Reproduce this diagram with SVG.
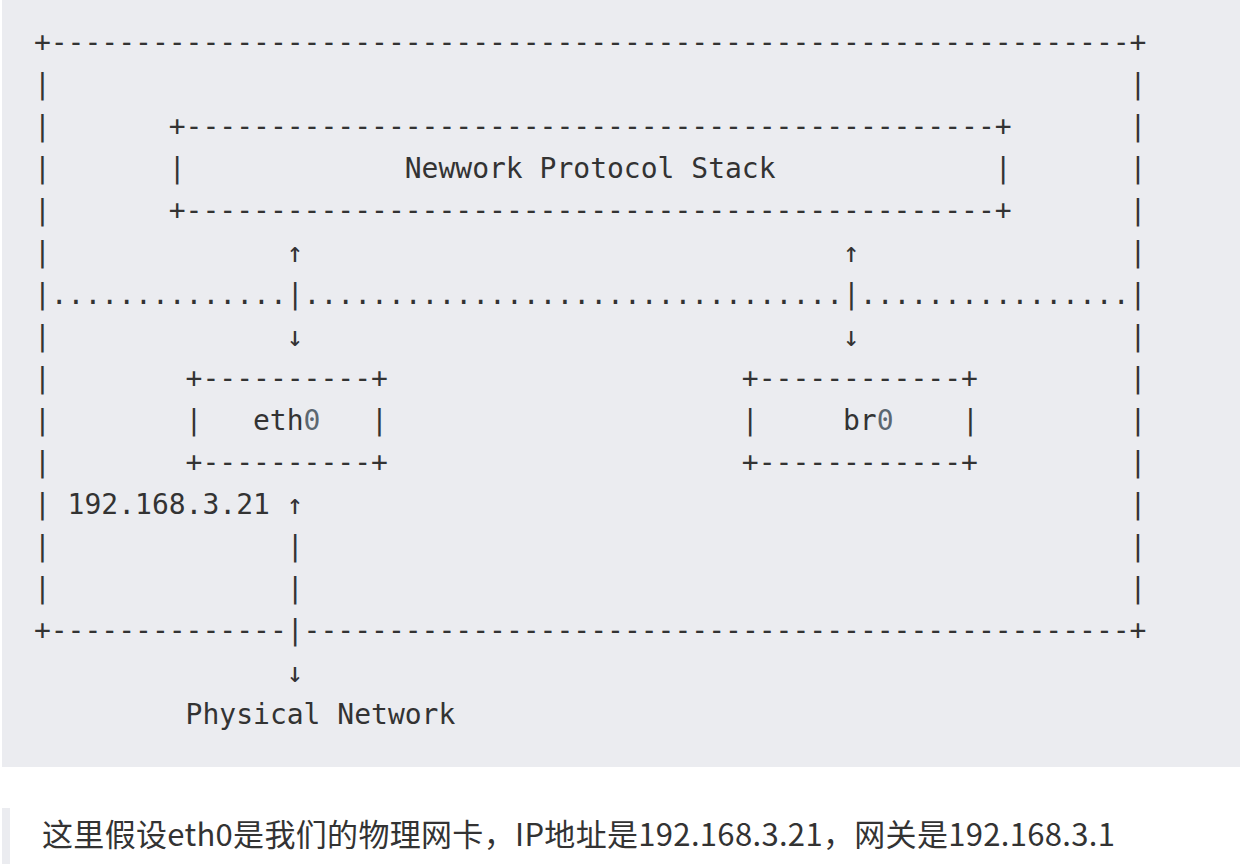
<svg xmlns="http://www.w3.org/2000/svg" width="1240" height="864" viewBox="0 0 1240 864">
<style>
.m{font-family:"DejaVu Sans Mono","Liberation Mono",monospace;font-size:28px;fill:#333333;white-space:pre}
.num{fill:#5c6770}
.cap{font-family:"Noto Sans CJK SC","Noto Sans",sans-serif;font-size:31px;fill:#333333}
</style>
<rect x="2" y="0" width="1238" height="767" fill="#ebecf0"/>
<rect x="2" y="808" width="8" height="56" fill="#ebecf0"/>

<g id="host-frame">
  <text class="m" x="33.9" y="51.5">+----------------------------------------------------------------+</text>
  <text class="m">
    <tspan x="33.9" y="93.5">|</tspan><tspan x="1129.54" y="93.5">|</tspan>
    <tspan x="33.9" y="135.5">|</tspan><tspan x="1129.54" y="135.5">|</tspan>
    <tspan x="33.9" y="177.5">|</tspan><tspan x="1129.54" y="177.5">|</tspan>
    <tspan x="33.9" y="219.5">|</tspan><tspan x="1129.54" y="219.5">|</tspan>
    <tspan x="33.9" y="261.5">|</tspan><tspan x="1129.54" y="261.5">|</tspan>
    <tspan x="33.9" y="303.5">|</tspan><tspan x="1129.54" y="303.5">|</tspan>
    <tspan x="33.9" y="345.5">|</tspan><tspan x="1129.54" y="345.5">|</tspan>
    <tspan x="33.9" y="387.5">|</tspan><tspan x="1129.54" y="387.5">|</tspan>
    <tspan x="33.9" y="429.5">|</tspan><tspan x="1129.54" y="429.5">|</tspan>
    <tspan x="33.9" y="471.5">|</tspan><tspan x="1129.54" y="471.5">|</tspan>
    <tspan x="33.9" y="513.5">|</tspan><tspan x="1129.54" y="513.5">|</tspan>
    <tspan x="33.9" y="555.5">|</tspan><tspan x="1129.54" y="555.5">|</tspan>
    <tspan x="33.9" y="597.5">|</tspan><tspan x="1129.54" y="597.5">|</tspan>
  </text>
  <text class="m" x="33.9" y="639.5">+--------------</text>
  <text class="m" x="303.6" y="639.5">-------------------------------------------------+</text>
</g>

<g id="protocol-stack">
  <text class="m" x="168.75" y="135.5">+------------------------------------------------+</text>
  <text class="m" x="168.75" y="177.5">|</text>
  <text class="m" x="404.73" y="177.5">Newwork Protocol Stack</text>
  <text class="m" x="994.69" y="177.5">|</text>
  <text class="m" x="168.75" y="219.5">+------------------------------------------------+</text>
</g>

<g id="space-boundary">
  <text class="m" x="50.76" y="303.5">..............</text>
  <text class="m" x="303.6" y="303.5">................................</text>
  <text class="m" x="859.84" y="303.5">................</text>
</g>

<g id="eth0">
  <text class="m" x="185.6" y="387.5">+----------+</text>
  <text class="m" x="185.6" y="429.5">|</text>
  <text class="m" x="253.03" y="429.5">eth<tspan class="num">0</tspan></text>
  <text class="m" x="371.02" y="429.5">|</text>
  <text class="m" x="185.6" y="471.5">+----------+</text>
</g>

<g id="br0">
  <text class="m" x="741.85" y="387.5">+------------+</text>
  <text class="m" x="741.85" y="429.5">|</text>
  <text class="m" x="842.99" y="429.5">br<tspan class="num">0</tspan></text>
  <text class="m" x="961.98" y="429.5">|</text>
  <text class="m" x="741.85" y="471.5">+------------+</text>
</g>

<g id="ip-label">
  <text class="m" x="67.61" y="513.5">192.168.3.21</text>
</g>

<g id="physical-network">
  <text class="m" x="185.6" y="723.5">Physical Network</text>
</g>

<g id="connectors">
  <text class="m" x="286.74" y="261.5">↑</text>
  <text class="m" x="286.74" y="303.5">|</text>
  <text class="m" x="286.74" y="345.5">↓</text>
  <text class="m" x="842.99" y="261.5">↑</text>
  <text class="m" x="842.99" y="303.5">|</text>
  <text class="m" x="842.99" y="345.5">↓</text>
  <text class="m" x="286.74" y="513.5">↑</text>
  <text class="m" x="286.74" y="555.5">|</text>
  <text class="m" x="286.74" y="597.5">|</text>
  <text class="m" x="286.74" y="639.5">|</text>
  <text class="m" x="286.74" y="681.5">↓</text>
</g>

<g id="caption">
  <text class="cap" x="42" y="846" textLength="1073" lengthAdjust="spacing">这里假设eth0是我们的物理网卡，IP地址是192.168.3.21，网关是192.168.3.1</text>
</g>
</svg>
